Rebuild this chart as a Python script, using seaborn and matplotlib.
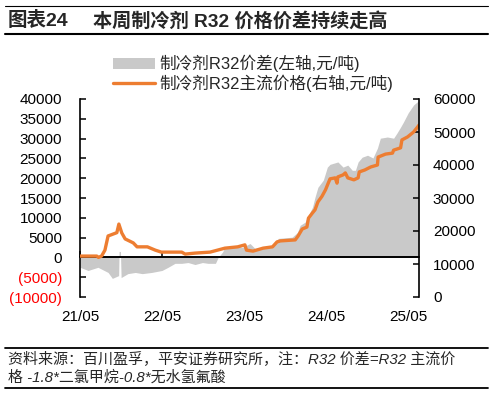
import pandas as pd
import matplotlib.pyplot as plt
import matplotlib.dates as mdates
from matplotlib.patches import Patch
from matplotlib.lines import Line2D
import seaborn as sns

# R32 mainstream price (right axis, yuan/ton)
price_dates = [
    "2021-05-01", "2021-07-15", "2021-07-22", "2021-08-05", "2021-08-20",
    "2021-09-03", "2021-09-15", "2021-10-12", "2021-10-21", "2021-11-03",
    "2021-11-18", "2021-12-24", "2022-01-10", "2022-02-25", "2022-04-01",
    "2022-04-28", "2022-07-28", "2022-08-12", "2022-09-25", "2022-12-01",
    "2023-02-05", "2023-04-03", "2023-05-05", "2023-05-12", "2023-06-10",
    "2023-07-25", "2023-09-05", "2023-09-25", "2023-10-10", "2023-12-15",
    "2023-12-28", "2024-01-15", "2024-02-05", "2024-02-12", "2024-03-01",
    "2024-03-12", "2024-03-25", "2024-04-12", "2024-04-28", "2024-05-10",
    "2024-05-18", "2024-06-10", "2024-06-18", "2024-06-22", "2024-07-15",
    "2024-07-25", "2024-08-05", "2024-09-01", "2024-09-20", "2024-09-25",
    "2024-10-20", "2024-11-15", "2024-12-15", "2024-12-18", "2025-01-20",
    "2025-02-20", "2025-02-25", "2025-03-28", "2025-04-03", "2025-04-28",
    "2025-05-25", "2025-06-15", "2025-06-18",
]
price_vals = [
    12400, 12400, 12000, 12400, 14200,
    18500, 18800, 19500, 22100, 19400,
    17600, 16400, 15200, 15200, 14200,
    13600, 13600, 13000, 13300, 13600,
    14800, 15200, 15800, 14200, 13900,
    14800, 15200, 16700, 17000, 17300,
    18500, 20600, 21200, 23900, 25500,
    26400, 28800, 30500, 32500, 34500,
    35800, 36100, 34500, 36400, 37000,
    37600, 36100, 35500, 36100, 37900,
    38500, 39400, 40000, 42400, 43300,
    43600, 44500, 45200, 47600, 48500,
    50000, 51800, 52100,
]

# R32 spread (left axis, yuan/ton)
spread_dates = [
    "2021-05-01", "2021-06-06", "2021-07-20", "2021-09-03", "2021-09-22",
    "2021-10-20", "2021-10-22", "2021-10-28", "2021-10-31", "2021-11-30",
    "2022-01-02", "2022-02-02", "2022-03-16", "2022-05-01", "2022-05-28",
    "2022-06-28", "2022-07-28", "2022-08-25", "2022-09-25", "2022-10-28",
    "2022-11-22", "2022-12-25", "2023-01-06", "2023-01-25", "2023-02-05",
    "2023-03-08", "2023-03-22", "2023-04-22", "2023-05-28", "2023-06-18",
    "2023-07-20", "2023-09-05", "2023-10-01", "2023-12-01", "2023-12-25",
    "2024-01-06", "2024-01-28", "2024-02-12", "2024-03-01", "2024-03-12",
    "2024-03-25", "2024-04-18", "2024-05-06", "2024-05-18", "2024-06-22",
    "2024-07-15", "2024-08-05", "2024-08-25", "2024-09-08", "2024-09-20",
    "2024-10-08", "2024-11-01", "2024-11-25", "2024-12-15", "2024-12-28",
    "2025-01-28", "2025-02-25", "2025-03-12", "2025-03-28", "2025-04-10",
    "2025-05-01", "2025-05-25", "2025-06-15", "2025-06-18",
]
spread_vals = [
    -2500, -3300, -2500, -3800, -5300,
    -4600, 1500, 1500, -5100, -4100,
    -3800, -4100, -3800, -3300, -2500,
    -1500, -1500, -1300, -1800, -1300,
    -1500, -1500, 0, 1300, 2500,
    2300, 3000, 2500, 3500, 2300,
    2300, 2500, 4800, 5100, 6300,
    8100, 8900, 10600, 12700, 15200,
    17700, 19500, 22800, 23500, 24100,
    22800, 23300, 22000, 22000, 24100,
    25300, 25800, 25100, 27600, 30100,
    30400, 30100, 31400, 32900, 34200,
    36500, 38500, 39500, 39700,
]

left_ticks = [-10000, -5000, 0, 5000, 10000, 15000, 20000, 25000, 30000, 35000, 40000]
right_ticks = [0, 10000, 20000, 30000, 40000, 50000, 60000]
x_ticks = ["2021-05-01", "2022-05-01", "2023-05-01", "2024-05-01", "2025-05-01"]

label_spread = "制冷剂R32价差(左轴,元/吨)"
label_price = "制冷剂R32主流价格(右轴,元/吨)"

orange = "#ED7D31"
grey = "#C9C9C9"

sns.set_style("white")
plt.rcParams["font.family"] = ["Liberation Sans", "Noto Sans CJK SC"]
plt.rcParams["axes.unicode_minus"] = False

price = pd.DataFrame({"date": pd.to_datetime(price_dates), "price": price_vals})
spread = pd.DataFrame({"date": pd.to_datetime(spread_dates), "spread": spread_vals})

W, H = 495, 395
fig = plt.figure(figsize=(W / 100, H / 100), dpi=100)
ax = fig.add_axes([80 / W, 1 - 297 / H, (419 - 80) / W, (297 - 99) / H])
ax2 = ax.twinx()

ax.fill_between(spread["date"], spread["spread"], 0, color=grey, lw=0)
ax.axhline(0, color="black", lw=1.2)
sns.lineplot(data=price, x="date", y="price", ax=ax2, color=orange, lw=2.4)

ax.set_xlim(price["date"].min(), price["date"].max())
ax.set_ylim(-10000, 40000)
ax2.set_ylim(0, 60000)

ax.set_yticks(left_ticks)
ax.set_yticklabels([f"({-v})" if v < 0 else str(v) for v in left_ticks])
ax2.set_yticks(right_ticks)
ax2.set_yticklabels([str(v) for v in right_ticks])

ax.set_xticks(pd.to_datetime(x_ticks))
ax.xaxis.set_major_formatter(mdates.DateFormatter("%y/%m"))

for a in (ax, ax2):
    a.set_xlabel("")
    a.set_ylabel("")
    a.spines["top"].set_visible(False)
ax.spines["right"].set_visible(False)
ax2.spines["left"].set_visible(False)
ax2.spines["bottom"].set_visible(False)
ax.spines["bottom"].set_position(("data", 0))
ax.spines["left"].set_color("black")
ax.spines["left"].set_linewidth(1.2)
ax.spines["bottom"].set_color("black")
ax.spines["bottom"].set_linewidth(1.2)
ax2.spines["right"].set_color("black")
ax2.spines["right"].set_linewidth(1.2)

ax.tick_params(axis="y", direction="in", length=4.5, width=1.1, pad=13,
               labelsize=11, colors="black", left=True)
for lbl, v in zip(ax.get_yticklabels(), left_ticks):
    lbl.set_color("#FF0000" if v < 0 else "black")
ax2.tick_params(axis="y", direction="in", length=4.5, width=1.1, pad=10,
                labelsize=11, colors="black", right=True)
ax.tick_params(axis="x", direction="in", length=4, width=1.1, pad=38,
               labelsize=11, colors="black", bottom=True)

handles = [Patch(facecolor=grey, edgecolor="none"),
           Line2D([], [], color=orange, lw=2.4)]
fig.legend(handles, [label_spread, label_price], loc="upper left",
           bbox_to_anchor=(113 / W, 1 - 55 / H), frameon=False, fontsize=12,
           handlelength=2.5, handletextpad=0.25, borderpad=0,
           borderaxespad=0, labelspacing=0.15, handleheight=0.65)

# header and footer
fig.text(8 / W, 1 - 21 / H, "图表24", fontsize=14, fontweight="bold",
         ha="left", va="center")
fig.text(93 / W, 1 - 21 / H, "本周制冷剂 R32 价格价差持续走高", fontsize=13.8,
         fontweight="bold", ha="left", va="center")
fig.text(8 / W, 1 - 360 / H,
         "资料来源：百川盈孚，平安证券研究所，注：R32 价差=R32 主流价",
         fontsize=10.8, style="italic", ha="left", va="center")
fig.text(8 / W, 1 - 377 / H, "格 -1.8*二氯甲烷-0.8*无水氢氟酸",
         fontsize=10.8, style="italic", ha="left", va="center")

for yy, lw in [(6, 0.8), (34, 1.5), (348, 1.3), (388, 1.3)]:
    fig.add_artist(Line2D([5 / W, 488 / W], [1 - yy / H] * 2,
                          transform=fig.transFigure, color="black", lw=lw))

fig.savefig("out.png", dpi=100)
